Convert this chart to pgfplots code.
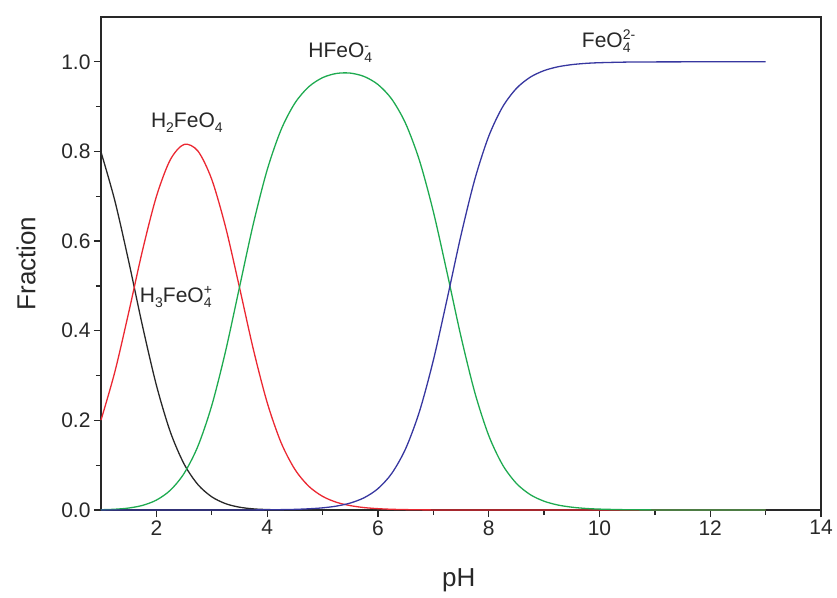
\documentclass[border=0pt]{standalone}
\usepackage{fontspec}
\setmainfont{Liberation Sans}
\usepackage{pgfplots}
\usepackage{pgfplotstable}
\pgfplotsset{compat=1.18}
\definecolor{cblack}{RGB}{40,40,40}
\definecolor{cred}{RGB}{235,40,50}
\definecolor{cgreen}{RGB}{30,170,80}
\definecolor{cblue}{RGB}{55,55,160}
\newcommand\sub[1]{\raisebox{-0.45ex}{\fontsize{14}{14}\selectfont #1}}
\newcommand\supsub[2]{\raisebox{-0.45ex}{\fontsize{14}{12}\selectfont\shortstack[l]{#1\\#2}}}
\pgfplotstableread{
pH f0 f1 f2 f3
1.00 0.7988 0.2006 0.0006 0
1.25 0.6900 0.3082 0.0017 0
1.50 0.5549 0.4407 0.0044 0
1.75 0.4102 0.5795 0.0103 0
2.00 0.2785 0.6994 0.0221 0
2.25 0.1749 0.7812 0.0439 0
2.50 0.1027 0.8157 0.0816 0
2.75 0.0567 0.8009 0.1424 0
3.00 0.0294 0.7375 0.2332 0
3.25 0.0141 0.6310 0.3548 0.0001
3.50 0.0063 0.4968 0.4968 0.0001
3.75 0.0025 0.3589 0.6383 0.0002
4.00 0.0010 0.2399 0.7587 0.0004
4.25 0.0003 0.1508 0.8481 0.0008
4.50 0.0001 0.0908 0.9077 0.0014
4.75 0 0.0531 0.9442 0.0027
5.00 0 0.0305 0.9646 0.0048
5.25 0 0.0173 0.9740 0.0087
5.50 0 0.0098 0.9748 0.0155
5.75 0 0.0054 0.9673 0.0273
6.00 0 0.0030 0.9494 0.0476
6.25 0 0.0016 0.9167 0.0817
6.50 0 0.0009 0.8624 0.1367
6.75 0 0.0004 0.7798 0.2198
7.00 0 0.0002 0.6660 0.3338
7.25 0 0.0001 0.5287 0.4712
7.50 0 0 0.3868 0.6131
7.75 0 0 0.2619 0.7381
8.00 0 0 0.1663 0.8337
8.25 0 0 0.1009 0.8991
8.50 0 0 0.0594 0.9406
8.75 0 0 0.0343 0.9657
9.00 0 0 0.0196 0.9804
9.25 0 0 0.0111 0.9889
9.50 0 0 0.0063 0.9937
9.75 0 0 0.0035 0.9965
10.00 0 0 0.0020 0.9980
10.50 0 0 0.0006 0.9994
11.00 0 0 0.0002 0.9998
12.00 0 0 0 1.0000
13.00 0 0 0 1.0000
}\data
\begin{document}
\begin{tikzpicture}
\begin{axis}[
  scale only axis,
  width=720pt, height=493pt,
  xmin=1, xmax=14, ymin=0, ymax=1.1,
  xtick={2,4,...,14},
  ytick={0,0.2,...,1.0},
  minor x tick num=1, minor y tick num=1,
  xtick pos=bottom, ytick pos=left,
  tick align=outside,
  major tick length=7pt, minor tick length=5pt,
  every tick/.style={line width=1.3pt, cblack},
  axis line style={line width=1.5pt, cblack},
  /pgf/number format/assume math mode=true,
  yticklabel style={/pgf/number format/.cd, fixed, fixed zerofill, precision=1},
  ticklabel style={font=\fontsize{21}{24}\selectfont, text=cblack},
  xlabel={pH}, ylabel={Fraction},
  label style={font=\fontsize{26}{30}\selectfont, text=cblack},
  xlabel style={at={(axis description cs:0.497,-0.142)}, anchor=center},
  ylabel style={at={(axis description cs:-0.104,0.5)}, anchor=center},
  every axis plot/.append style={line width=1.3pt, smooth},
  clip=false,
]
\addplot[cblack] table[x=pH,y=f0] {\data};
\addplot[cred] table[x=pH,y=f1] {\data};
\addplot[cgreen] table[x=pH,y=f2] {\data};
\addplot[cblue] table[x=pH,y=f3] {\data};
\begin{scope}[every node/.style={font=\fontsize{21}{24}\selectfont, text=cblack, inner sep=0pt, anchor=base west}]
\node at (axis cs:1.90,0.853) {H\sub{2}FeO\sub{4}};
\node at (axis cs:1.70,0.464) {H\sub{3}FeO\supsub{+}{4}};
\node at (axis cs:4.74,1.009) {HFeO\supsub{-}{4}};
\node at (axis cs:9.68,1.033) {FeO\supsub{2-}{4}};
\end{scope}
\end{axis}
\path (current axis.south west) ++(-101pt,-87pt);
\path (current axis.north east) ++(16pt,17pt);
\end{tikzpicture}
\end{document}
